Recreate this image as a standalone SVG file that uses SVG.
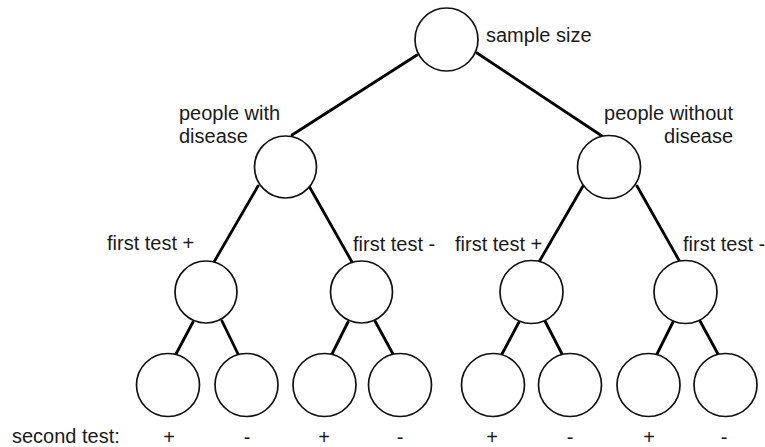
<svg xmlns="http://www.w3.org/2000/svg" width="765" height="447" viewBox="0 0 765 447">
<style>
.n{fill:#fff;stroke:#111;stroke-width:1.7}
.e{stroke:#000;stroke-width:2.8;stroke-linecap:round}
text{font-family:"Liberation Sans",Arial,sans-serif;font-size:20px;fill:#1a1a1a}
.end{text-anchor:end}
.mid{text-anchor:middle}
</style>
<rect width="765" height="447" fill="#fff"/>
<g id="connectors">
<line class="e" x1="417" y1="55" x2="292" y2="135"/>
<line class="e" x1="477" y1="53" x2="602" y2="136"/>
<line class="e" x1="258" y1="186" x2="214" y2="262"/>
<line class="e" x1="309" y1="186" x2="352" y2="262"/>
<line class="e" x1="583" y1="186" x2="539" y2="262"/>
<line class="e" x1="637" y1="186" x2="680" y2="262"/>
<line class="e" x1="193" y1="322" x2="176" y2="354"/>
<line class="e" x1="222" y1="321" x2="238" y2="354"/>
<line class="e" x1="348" y1="322" x2="332" y2="354"/>
<line class="e" x1="375" y1="321" x2="393" y2="354"/>
<line class="e" x1="519" y1="322" x2="502" y2="354"/>
<line class="e" x1="545" y1="321" x2="562" y2="354"/>
<line class="e" x1="673" y1="322" x2="657" y2="354"/>
<line class="e" x1="700" y1="321" x2="718" y2="354"/>
</g>
<g id="root"><circle class="n" cx="446.5" cy="39.5" r="31.5"/><text x="486" y="42">sample size</text></g>
<g id="with"><circle class="n" cx="285.5" cy="167" r="31"/><text x="179" y="120">people with</text><text x="179" y="143">disease</text></g>
<g id="without"><circle class="n" cx="609" cy="167" r="31.5"/><text class="end" x="733" y="120">people without</text><text class="end" x="733" y="143">disease</text></g>
<g id="w1p"><circle class="n" cx="206" cy="292" r="31"/><text x="107" y="250">first test +</text></g>
<g id="w1m"><circle class="n" cx="361.5" cy="292" r="31"/><text x="353" y="251">first test -</text></g>
<g id="wo1p"><circle class="n" cx="531.5" cy="292" r="31.5"/><text x="455" y="251">first test +</text></g>
<g id="wo1m"><circle class="n" cx="685.5" cy="292" r="31.5"/><text x="683" y="251">first test -</text></g>
<g id="l1"><circle class="n" cx="168" cy="385" r="31.5"/><text class="mid" x="169" y="444">+</text></g>
<g id="l2"><circle class="n" cx="246.5" cy="385" r="31.5"/><text class="mid" x="247" y="444">-</text></g>
<g id="l3"><circle class="n" cx="324.5" cy="385" r="31.5"/><text class="mid" x="324" y="444">+</text></g>
<g id="l4"><circle class="n" cx="400" cy="385" r="31.5"/><text class="mid" x="400" y="444">-</text></g>
<g id="l5"><circle class="n" cx="493" cy="385" r="31.5"/><text class="mid" x="492" y="444">+</text></g>
<g id="l6"><circle class="n" cx="570" cy="385" r="31.5"/><text class="mid" x="570" y="444">-</text></g>
<g id="l7"><circle class="n" cx="648.5" cy="385" r="31.5"/><text class="mid" x="649" y="444">+</text></g>
<g id="l8"><circle class="n" cx="725.5" cy="385" r="31.5"/><text class="mid" x="724" y="444">-</text></g>
<text x="12" y="443">second test:</text>
</svg>
